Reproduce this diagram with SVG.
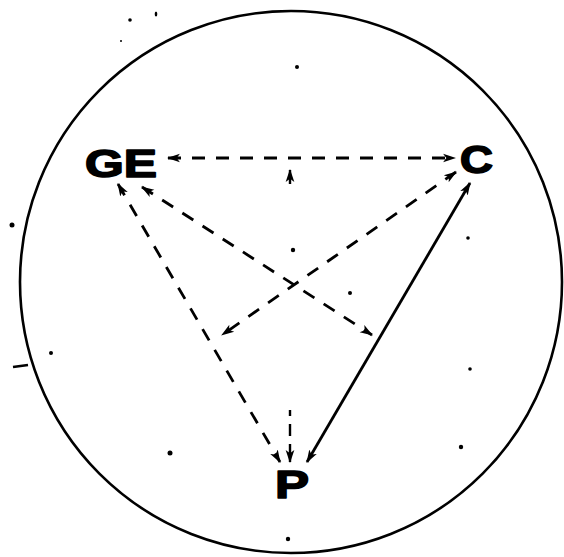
<svg xmlns="http://www.w3.org/2000/svg" width="564" height="557" viewBox="0 0 564 557">
<defs>
<style>
.lbl{font-family:"Liberation Sans",Arial,sans-serif;font-weight:bold;font-size:39px;fill:#000;stroke:#000;stroke-width:1.6;stroke-linejoin:round}
.d{stroke:#000;stroke-width:2.8;fill:none;stroke-dasharray:13 11}
.s{stroke:#000;stroke-width:2.8;fill:none}
.f{stroke:#000;stroke-width:2.4;fill:none;stroke-dasharray:14 226 6 8 12 8 40}
</style>
<marker id="ah" viewBox="0 0 12 10" refX="11" refY="5" markerWidth="13" markerHeight="11" markerUnits="userSpaceOnUse" orient="auto-start-reverse">
<path d="M0,1 L12,5 L0,9 L3,5 Z" fill="#000"/>
</marker>
</defs>
<rect width="564" height="557" fill="#fff"/>
<circle cx="291" cy="282" r="271" fill="none" stroke="#000" stroke-width="2.6"/>
<g id="connectors">
<line class="d" x1="168" y1="158" x2="455" y2="158" marker-start="url(#ah)" marker-end="url(#ah)"/>
<line class="f" x1="290" y1="170" x2="290" y2="462" marker-start="url(#ah)" marker-end="url(#ah)"/>
<line class="d" x1="118" y1="184" x2="280" y2="462" marker-start="url(#ah)" marker-end="url(#ah)"/>
<line class="d" x1="142" y1="187" x2="372" y2="335" marker-start="url(#ah)" marker-end="url(#ah)"/>
<line class="d" x1="456" y1="172" x2="222" y2="335" marker-start="url(#ah)" marker-end="url(#ah)"/>
<line class="s" x1="307" y1="462" x2="470" y2="183" marker-start="url(#ah)" marker-end="url(#ah)"/>
</g>
<g id="node-GE"><text class="lbl" x="85" y="177" textLength="72" lengthAdjust="spacingAndGlyphs">GE</text></g>
<g id="node-C"><text class="lbl" x="460" y="173" textLength="33" lengthAdjust="spacingAndGlyphs">C</text></g>
<g id="node-P"><text class="lbl" x="275" y="498" textLength="34" lengthAdjust="spacingAndGlyphs">P</text></g>
<g id="specks" fill="#000">
<circle cx="130" cy="20" r="1.8"/>
<ellipse cx="156" cy="14" rx="1.3" ry="2.5"/>
<circle cx="121" cy="41" r="1"/>
<circle cx="297" cy="67" r="2"/>
<circle cx="12" cy="225" r="2.5"/>
<path d="M13,367 L28,365" stroke="#000" stroke-width="2.5"/>
<circle cx="51" cy="353" r="2"/>
<circle cx="293" cy="250" r="2.2"/>
<circle cx="350" cy="293" r="2"/>
<circle cx="468" cy="238" r="1.8"/>
<circle cx="470" cy="369" r="1.8"/>
<circle cx="461" cy="447" r="2.2"/>
<circle cx="170" cy="453" r="2.5"/>
<circle cx="288" cy="539" r="2.2"/>
</g>
</svg>
